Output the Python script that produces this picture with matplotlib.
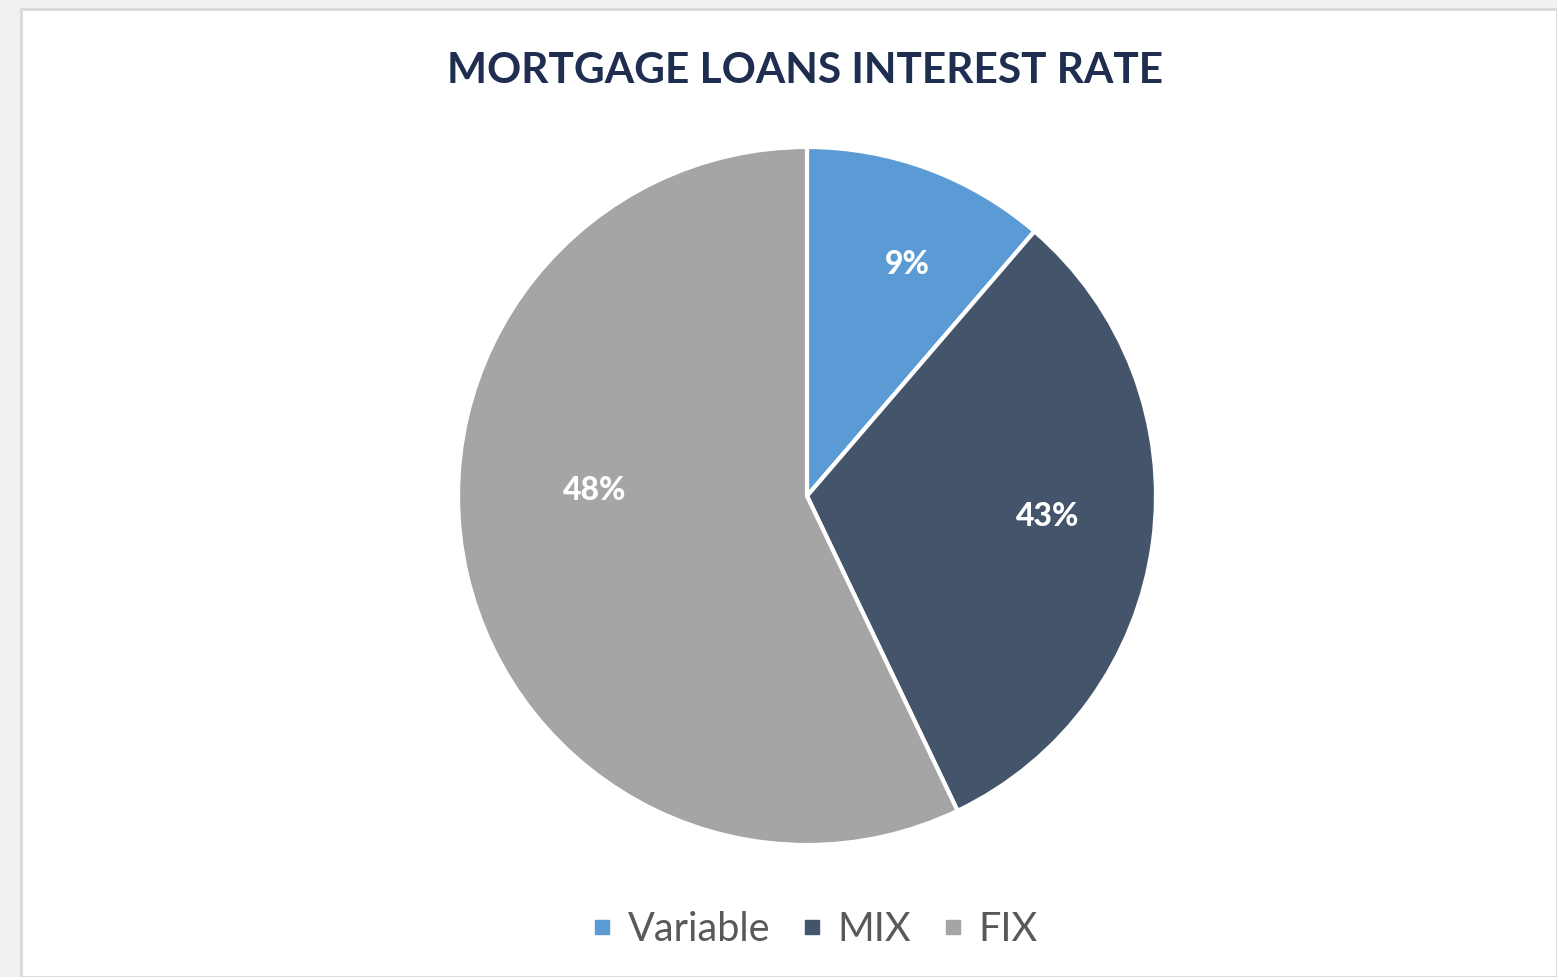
import matplotlib
matplotlib.use("Agg")
import matplotlib.pyplot as plt
from matplotlib.patches import Rectangle
from matplotlib.lines import Line2D

# Data
categories = ["Variable", "MIX", "FIX"]
slice_shares = [11.3, 31.6, 57.1]          # slice sizes as drawn
label_texts = ["9%", "43%", "48%"]          # data labels as printed
colors = ["#5b9bd5", "#44546a", "#a5a5a5"]
title = "MORTGAGE LOANS INTEREST RATE"

# label positions (in pie data units)
label_pos = [(0.287, 0.665), (0.69, -0.057), (-0.607, 0.02)]

W, H = 1557, 978
fig = plt.figure(figsize=(W / 100, H / 100), dpi=100)
fig.patch.set_facecolor("#f1f1ef")

# white card
card = Rectangle((21 / W, 0), 1 - 21 / W, 1 - 10 / H, transform=fig.transFigure,
                 facecolor="white", edgecolor="#d9d9d9", linewidth=2, zorder=-5)
fig.patches.append(card)

ax = fig.add_axes([458 / W, 132 / H, 698 / W, 698 / H])
ax.set_zorder(2)
ax.pie(slice_shares, colors=colors, startangle=90, counterclock=False,
       radius=1.0, wedgeprops=dict(edgecolor="white", linewidth=3))
ax.set_xlim(-1, 1)
ax.set_ylim(-1, 1)
ax.set_aspect("equal")
ax.axis("off")

for txt, (x, y) in zip(label_texts, label_pos):
    ax.text(x, y, txt, ha="center", va="center", color="white",
            fontsize=23, fontweight="black", family="Lato")

fig.text(805 / W, 1 - 71 / H, title, ha="center", va="center",
         fontsize=30.5, fontweight="bold", family="Lato", color="#1f2d50")

handles = [Line2D([], [], marker="s", linestyle="none", markersize=10,
                  markerfacecolor=c, markeredgecolor=c) for c in colors]
leg = fig.legend(handles, categories, loc="center", bbox_to_anchor=(812 / W, 1 - 930 / H),
                 ncol=3, frameon=False, handletextpad=0.25, columnspacing=0.65,
                 handlelength=0.8, prop=dict(family="Lato", size=28.5))
for t in leg.get_texts():
    t.set_color("#595959")

fig.savefig("out.png", dpi=100, facecolor=fig.get_facecolor())
